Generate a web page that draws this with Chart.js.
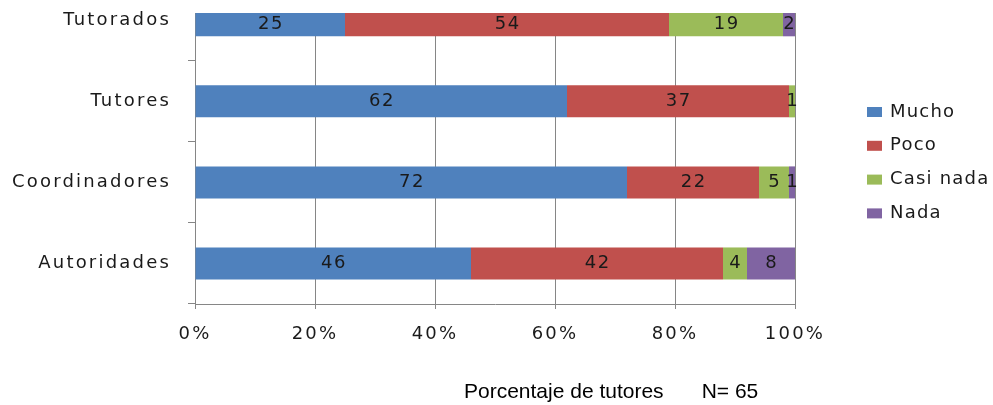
<!DOCTYPE html>
<html>
<head>
<meta charset="utf-8">
<script src="https://cdn.jsdelivr.net/npm/chart.js@4"></script>
<style>
body { margin: 0; background: #fff; }
#wrap { position: relative; width: 993px; height: 405px; }
#note { position: absolute; left: 464px; top: 380px; font: 21px "Liberation Sans", Arial, sans-serif; line-height: 21px; color: #000; white-space: nowrap; }
#note span { margin-left: 38px; }
</style>
</head>
<body>
<div id="wrap">
  <canvas id="chart"></canvas>
  <div id="note">Porcentaje de tutores<span>N= 65</span></div>
</div>
<script>
// categories top to bottom
const categories = ["Tutorados", "Tutores", "Coordinadores", "Autoridades"];
const seriesNames = ["Mucho", "Poco", "Casi nada", "Nada"];
const mucho = [25, 62, 72, 46];
const poco = [54, 37, 22, 42];
const casiNada = [19, 1, 5, 4];
const nada = [2, 0, 1, 8];
const xTicks = [0, 20, 40, 60, 80, 100];

const colors = ["#4F81BD", "#C0504D", "#9BBB59", "#8064A2"];
const font = { family: "DejaVu Sans", size: 18 };
const gray = "#868686";
const letters = "2.2px";

// y position of each category (bottom = 0)
const pos = i => categories.length - 1 - i;

function makeSet(name, values, color) {
  return {
    label: name,
    data: values.map((v, i) => ({ x: v, y: pos(i) })),
    backgroundColor: color,
    borderWidth: 0,
    barPercentage: 0.395,
    categoryPercentage: 1,
    clip: 0
  };
}

const spacing = {
  id: "spacing",
  beforeUpdate(c) { c.ctx.letterSpacing = letters; },
  beforeLayout(c) { c.ctx.letterSpacing = letters; },
  beforeDraw(c) { c.ctx.letterSpacing = letters; }
};

/* numbers inside the bars */
const barLabels = {
  id: "barLabels",
  afterDatasetsDraw(c) {
    const ctx = c.ctx, area = c.chartArea;
    ctx.save();
    ctx.font = '18px "DejaVu Sans"';
    ctx.letterSpacing = "1.4px";
    ctx.fillStyle = "#1a1a1a";
    ctx.textAlign = "center";
    ctx.textBaseline = "middle";
    c.data.datasets.forEach((ds, i) => {
      c.getDatasetMeta(i).data.forEach((bar, j) => {
        const v = ds.data[j].x;
        if (!v) return;
        const p = bar.getProps(["x", "y", "base", "height"], true);
        const top = Math.max(p.y - p.height / 2, area.top);
        const bottom = Math.min(p.y + p.height / 2, area.bottom);
        ctx.fillText(v, (p.x + p.base) / 2 + 0.7, (top + bottom) / 2);
      });
    });
    ctx.restore();
  }
};

/* legend on the right */
const sideLegend = {
  id: "sideLegend",
  afterDraw(c, args, o) {
    const ctx = c.ctx;
    ctx.save();
    ctx.font = '18px "DejaVu Sans"';
    ctx.letterSpacing = "1.2px";
    ctx.textAlign = "left";
    ctx.textBaseline = "middle";
    c.data.datasets.forEach((ds, i) => {
      const y = o.y + i * o.gap;
      ctx.fillStyle = ds.backgroundColor;
      ctx.fillRect(o.x, y - o.boxH / 2, o.boxW, o.boxH);
      ctx.fillStyle = "#1a1a1a";
      ctx.fillText(ds.label, o.textX, y);
    });
    ctx.restore();
  }
};

new Chart(document.getElementById("chart"), {
  type: "bar",
  data: {
    datasets: [
      makeSet(seriesNames[0], mucho, colors[0]),
      makeSet(seriesNames[1], poco, colors[1]),
      makeSet(seriesNames[2], casiNada, colors[2]),
      makeSet(seriesNames[3], nada, colors[3])
    ]
  },
  options: {
    indexAxis: "y",
    responsive: true,
    maintainAspectRatio: false,
    animation: false,
    layout: { padding: { top: 13, left: 0, right: 198, bottom: 61 } },
    plugins: {
      legend: { display: false },
      tooltip: { enabled: false },
      sideLegend: { x: 867, y: 112, gap: 33.8, boxW: 15, boxH: 10, textX: 890 }
    },
    scales: {
      x: {
        stacked: true,
        min: 0,
        max: 100,
        afterBuildTicks: s => { s.ticks = xTicks.map(v => ({ value: v })); },
        afterFit: s => { s.height = 40; },
        grid: { color: gray, tickLength: 5 },
        border: { color: gray },
        ticks: { padding: 15, font: font, color: "#1a1a1a", callback: v => v + "%" }
      },
      y: {
        type: "linear",
        stacked: true,
        offset: false,
        min: -0.5,
        max: 3.09,
        afterBuildTicks: s => { s.ticks = categories.map((c, i) => ({ value: i })); },
        afterFit: s => { s.width = 195; s.paddingTop = 0; s.paddingBottom = 0; },
        grid: { offset: true, drawOnChartArea: false, tickLength: 7, color: gray },
        border: { color: gray },
        ticks: { padding: 17, font: font, color: "#1a1a1a", callback: v => categories[pos(v)] }
      }
    }
  },
  plugins: [spacing, barLabels, sideLegend]
});
</script>
</body>
</html>
